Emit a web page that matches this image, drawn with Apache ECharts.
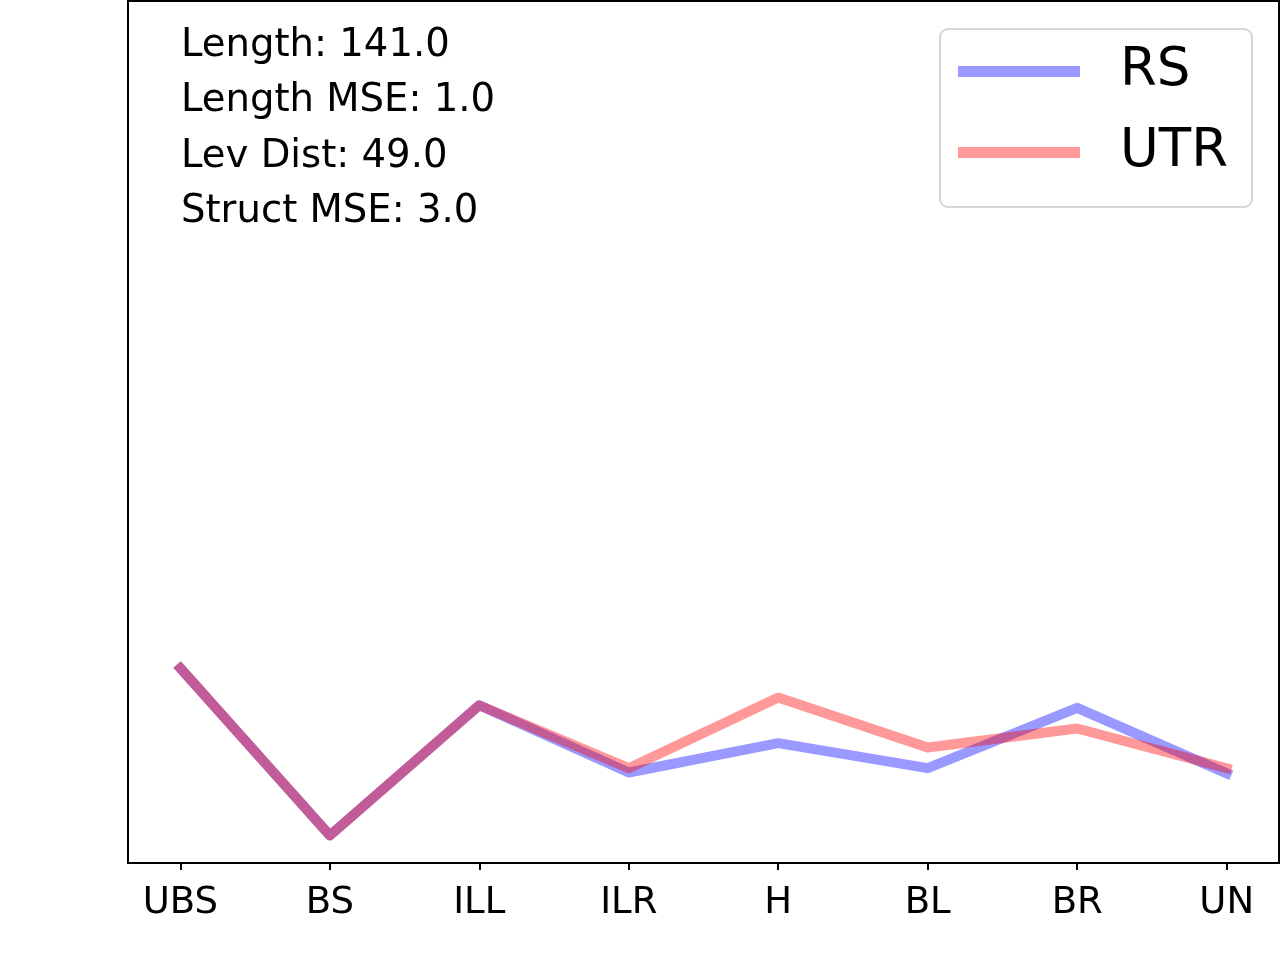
<!DOCTYPE html>
<html>
<head>
<meta charset="utf-8">
<script src="https://cdn.jsdelivr.net/npm/echarts@6/dist/echarts.min.js"></script>
<style>
html,body{margin:0;padding:0;background:#fff;}
#chart{width:1280px;height:960px;}
</style>
</head>
<body>
<div id="chart"></div>
<script>
const categories = ['UBS', 'BS', 'ILL', 'ILR', 'H', 'BL', 'BR', 'UN'];
const rsValues  = [22.6, 3.2, 18.3, 10.5, 13.9, 11.0, 18.0, 10.4];
const utrValues = [22.6, 3.2, 18.3, 11.0, 19.2, 13.4, 15.6, 11.0];
const seriesNames = ['RS', 'UTR'];
const statsLines = ['Length: 141.0', 'Length MSE: 1.0', 'Lev Dist: 49.0', 'Struct MSE: 3.0'];

const FONT = 'DejaVu Sans';
const chart = echarts.init(document.getElementById('chart'));
const toPts = vals => vals.map((v, i) => [i, v]);

const option = {
  backgroundColor: '#ffffff',
  animation: false,
  grid: {
    left: 128, right: 1, top: 1, bottom: 97,
    show: true, borderColor: '#000', borderWidth: 2, backgroundColor: 'transparent'
  },
  xAxis: {
    type: 'value',
    min: -0.35, max: categories.length - 1 + 0.35,
    splitLine: { show: false },
    axisLine: { show: true, lineStyle: { color: '#000', width: 2 } },
    axisTick: {
      show: true, inside: false, length: 7,
      lineStyle: { color: '#000', width: 2 },
      customValues: categories.map((c, i) => i)
    },
    axisLabel: {
      show: true, margin: 22,
      color: '#000', fontFamily: FONT, fontSize: 37,
      customValues: categories.map((c, i) => i),
      formatter: v => categories[Math.round(v)] || ''
    }
  },
  yAxis: {
    type: 'value', min: 0, max: 100,
    axisLine: { show: false }, axisTick: { show: false },
    axisLabel: { show: false }, splitLine: { show: false }
  },
  legend: {
    orient: 'vertical',
    right: 28, top: 29,
    data: seriesNames,
    icon: 'rect',
    itemWidth: 122, itemHeight: 11,
    itemGap: 22,
    padding: [13, 24, 25, 18],
    borderColor: '#d6d6d6', borderWidth: 2, borderRadius: 8,
    backgroundColor: '#fff',
    textStyle: { fontFamily: FONT, fontSize: 53, color: '#000', lineHeight: 53, padding: [6, 0, 0, 35] }
  },
  graphic: statsLines.map((t, i) => ({
    type: 'text',
    left: 181,
    top: 48 + 55.5 * i - 22,
    style: { text: t, fontFamily: FONT, fontSize: 38.6, fill: '#000' }
  })),
  series: [
    {
      name: seriesNames[0], type: 'line',
      data: toPts(rsValues),
      showSymbol: false, symbol: 'none',
      color: 'rgba(0,0,255,0.4)',
      lineStyle: { width: 10, color: 'rgba(0,0,255,0.4)', cap: 'square', join: 'round' },
      z: 2
    },
    {
      name: seriesNames[1], type: 'line',
      data: toPts(utrValues),
      showSymbol: false, symbol: 'none',
      color: 'rgba(255,0,0,0.4)',
      lineStyle: { width: 10, color: 'rgba(255,0,0,0.4)', cap: 'square', join: 'round' },
      z: 3
    }
  ]
};
chart.setOption(option);
</script>
</body>
</html>
